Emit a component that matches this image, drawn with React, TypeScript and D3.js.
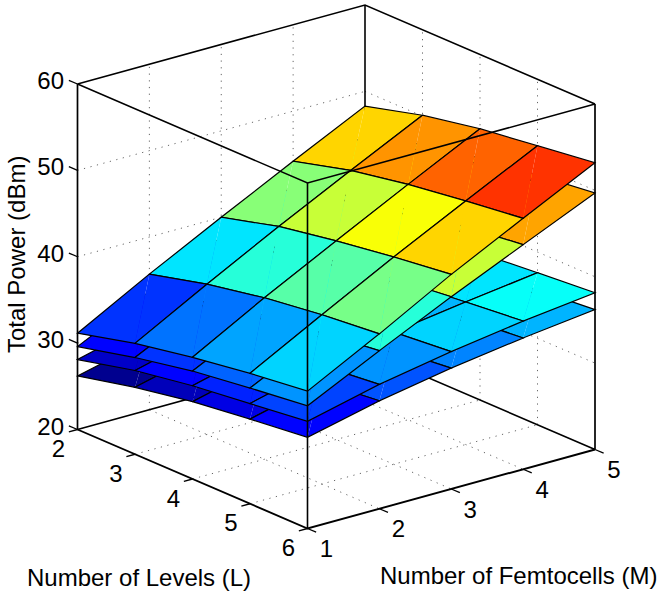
import React from 'react';
import * as d3 from 'd3';

const levels = [2, 3, 4, 5, 6];
const femtocells = [1, 2, 3, 4, 5];
const powerTicks = [20, 30, 40, 50, 60];

// rows are L = 2..6, columns are M = 1..5 (dBm)
const powerA = [
  [26.2, 28.2, 29.7, 31.0, 32.1],
  [27.75, 29.8, 31.3, 32.6, 33.7],
  [28.95, 31.0, 32.5, 33.8, 34.9],
  [29.8, 31.8, 33.3, 34.6, 35.6],
  [30.55, 32.5, 34.0, 35.2, 36.2],
];
const powerB = [
  [28.1, 30.2, 31.8, 33.1, 34.3],
  [29.7, 31.8, 33.4, 34.7, 35.9],
  [30.8, 32.9, 34.5, 35.8, 37.0],
  [31.6, 33.7, 35.3, 36.5, 37.6],
  [32.4, 34.4, 35.9, 37.16, 38.15],
];
const powerC = [
  [29.6, 33.7, 37.7, 41.4, 45.0],
  [31.2, 35.3, 39.3, 43.0, 46.7],
  [32.5, 36.6, 40.6, 44.3, 48.0],
  [33.4, 37.5, 41.5, 45.2, 48.9],
  [34.2, 38.3, 42.26, 46.0, 49.7],
];
const powerD = [
  [31.15, 35.7, 40.0, 44.2, 48.3],
  [32.84, 37.4, 41.8, 46.0, 50.1],
  [34.09, 38.7, 43.0, 47.25, 51.4],
  [35.1, 39.6, 44.0, 48.2, 52.3],
  [35.9, 40.25, 44.85, 49.05, 53.2],
];
const surfaces = [powerA, powerB, powerC, powerD]; // lowest first, so upper ones paint over

const FONT = '"Liberation Sans", Arial, sans-serif';

// orthographic view, each data axis adds its own screen offset
const xFromL = d3.scaleLinear().domain([2, 6]).range([0, 230]);
const yFromL = d3.scaleLinear().domain([2, 6]).range([0, 99]);
const xFromM = d3.scaleLinear().domain([1, 5]).range([0, 287.5]);
const yFromM = d3.scaleLinear().domain([1, 5]).range([0, -79]);
const yFromZ = d3.scaleLinear().domain([20, 60]).range([0, -345.5]);

const project = (l: number, m: number, z: number): [number, number] => [
  77.5 + xFromL(l) + xFromM(m),
  429.5 + yFromL(l) + yFromM(m) + yFromZ(z),
];

const path3 = (pts: [number, number, number][], close = false) => {
  const d = d3.line()(pts.map((p) => project(p[0], p[1], p[2]))) as string;
  return close ? d + 'Z' : d;
};

// MATLAB jet with 64 steps
const jet = d3
  .scaleLinear<string>()
  .domain([0, 0.125, 0.375, 0.625, 0.875, 1])
  .range(['#00008f', '#0000ff', '#00ffff', '#ffff00', '#ff0000', '#800000'])
  .clamp(true);
const allPower = surfaces.flat(2);
const cLow = d3.min(allPower) as number;
const cHigh = d3.max(allPower) as number;
const colorOf = (z: number) => {
  const t = (z - cLow) / (cHigh - cLow);
  return jet(Math.min(Math.floor(t * 64), 63) / 63);
};

const GridLine = ({ pts }: { pts: [number, number, number][] }) => (
  <path d={path3(pts)} fill="none" stroke="#666" strokeWidth={1} strokeDasharray="1.2 5.5" />
);

const Edge = ({ pts, w = 1.6 }: { pts: [number, number, number][]; w?: number }) => (
  <path d={path3(pts)} fill="none" stroke="#000" strokeWidth={w} />
);

export default function App() {
  const [l0, l1] = [levels[0], levels[levels.length - 1]];
  const [m0, m1] = [femtocells[0], femtocells[femtocells.length - 1]];
  const [z0, z1] = [powerTicks[0], powerTicks[powerTicks.length - 1]];
  const innerL = levels.slice(1, -1);
  const innerM = femtocells.slice(1, -1);
  const innerZ = powerTicks.slice(1, -1);

  return (
    <svg width={659} height={595} style={{ position: 'absolute', left: 0, top: 0, background: '#fff' }}>
      {/* walls and floor */}
      <g>
        {innerM.map((m) => (
          <g key={m}>
            <GridLine pts={[[l0, m, z0], [l0, m, z1]]} />
            <GridLine pts={[[l0, m, z0], [l1, m, z0]]} />
          </g>
        ))}
        {innerL.map((l) => (
          <g key={l}>
            <GridLine pts={[[l, m1, z0], [l, m1, z1]]} />
            <GridLine pts={[[l, m0, z0], [l, m1, z0]]} />
          </g>
        ))}
        {innerZ.map((z) => (
          <g key={z}>
            <GridLine pts={[[l0, m0, z], [l0, m1, z]]} />
            <GridLine pts={[[l0, m1, z], [l1, m1, z]]} />
          </g>
        ))}
      </g>
      {/* back of the box */}
      <Edge pts={[[l0, m0, z0], [l0, m1, z0], [l1, m1, z0]]} />
      <Edge pts={[[l0, m1, z0], [l0, m1, z1]]} />
      <Edge pts={[[l0, m0, z1], [l0, m1, z1], [l1, m1, z1]]} />

      {/* surfaces */}
      {surfaces.map((surf, s) => (
        <g key={s}>
          {d3.range(levels.length - 1).map((i) =>
            d3.range(femtocells.length - 2, -1, -1).map((j) => {
              const a: [number, number, number] = [levels[i], femtocells[j], surf[i][j]];
              const b: [number, number, number] = [levels[i + 1], femtocells[j], surf[i + 1][j]];
              const c: [number, number, number] = [levels[i + 1], femtocells[j + 1], surf[i + 1][j + 1]];
              const e: [number, number, number] = [levels[i], femtocells[j + 1], surf[i][j + 1]];
              const fill = colorOf(surf[i][j]);
              return (
                <g key={`${i}-${j}`}>
                  <path d={path3([a, b, e], true)} fill={fill} />
                  <path d={path3([b, c, e], true)} fill={fill} />
                  <path d={path3([a, b, c, e], true)} fill="none" stroke="#000" strokeWidth={1.2} />
                </g>
              );
            })
          )}
        </g>
      ))}

      {/* front of the box */}
      <Edge pts={[[l0, m0, z1], [l1, m0, z1], [l1, m1, z1]]} w={1.5} />
      <Edge pts={[[l1, m0, z0], [l1, m0, z1]]} w={1.6} />
      <Edge pts={[[l0, m0, z0], [l0, m0, z1]]} w={1.7} />
      <Edge pts={[[l1, m1, z0], [l1, m1, z1]]} w={1.7} />
      <Edge pts={[[l0, m0, z0], [l1, m0, z0], [l1, m1, z0]]} w={1.9} />

      {/* ticks */}
      {powerTicks.map((z) => (
        <Edge key={z} pts={[[l0, m0, z], [l0 - 0.15, m0, z]]} w={1.3} />
      ))}
      {levels.map((l) => (
        <Edge key={l} pts={[[l, m0, z0], [l, m0 - 0.12, z0]]} w={1.3} />
      ))}
      {femtocells.map((m) => (
        <Edge key={m} pts={[[l1, m, z0], [l1 + 0.15, m, z0]]} w={1.3} />
      ))}

      {/* tick labels */}
      <g fontFamily={FONT} fontSize={24} fill="#000">
        {powerTicks.map((z) => (
          <text key={z} x={64} y={project(l0, m0, z)[1] - 3.5} textAnchor="end" dominantBaseline="central">
            {z}
          </text>
        ))}
        {levels.map((l) => {
          const [x, y] = project(l, m0, z0);
          return (
            <text key={l} x={x - 19} y={y + 19} textAnchor="middle" dominantBaseline="central">
              {l}
            </text>
          );
        })}
        {femtocells.map((m) => {
          const [x, y] = project(l1, m, z0);
          return (
            <text key={m} x={x + 19} y={y + 20} textAnchor="middle" dominantBaseline="central">
              {m}
            </text>
          );
        })}
      </g>

      {/* axis titles */}
      <g fontFamily={FONT} fontSize={24} fill="#000">
        <text x={27} y={586}>Number of Levels (L)</text>
        <text x={380} y={584}>Number of Femtocells (M)</text>
        <text transform="translate(25,353) rotate(-90)">Total Power (dBm)</text>
      </g>
    </svg>
  );
}
